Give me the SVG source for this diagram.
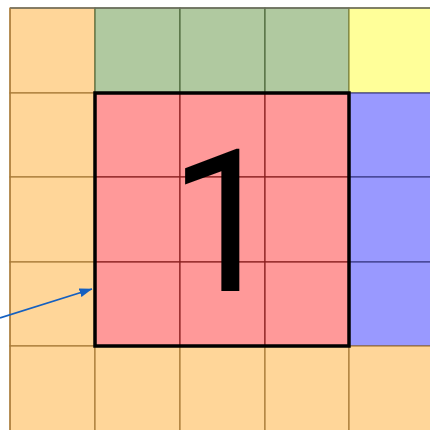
<svg xmlns="http://www.w3.org/2000/svg" width="430" height="430" viewBox="0 0 430 430">
<defs>
<style>
.o{fill:#FFD699;stroke:#A87A38;stroke-width:1.2}
.g{fill:#B0C9A0;stroke:#4F6A3C;stroke-width:1.2}
.y{fill:#FFFF99;stroke:#8A8A3C;stroke-width:1.2}
.p{fill:#FF9999;stroke:#8A2020;stroke-width:1.2}
.b{fill:#9999FF;stroke:#3C3C8A;stroke-width:1.2}
</style>
<marker id="ah" viewBox="0 0 13 9" refX="12.5" refY="4.5" markerWidth="13" markerHeight="9" markerUnits="userSpaceOnUse" orient="auto">
<path d="M0,0 L13,4.5 L0,9 Z" fill="#1560C0"/>
</marker>
</defs>
<g id="cells">
<rect class="o" x="10" y="8" width="85" height="85"/>
<rect class="g" x="95" y="8" width="85" height="85"/>
<rect class="g" x="180" y="8" width="85" height="85"/>
<rect class="g" x="265" y="8" width="84" height="85"/>
<rect class="y" x="349" y="8" width="90" height="85"/>
<rect class="o" x="10" y="93" width="85" height="84"/>
<rect class="o" x="10" y="177" width="85" height="85"/>
<rect class="o" x="10" y="262" width="85" height="84"/>
<rect class="p" x="95" y="93" width="85" height="84"/>
<rect class="p" x="180" y="93" width="85" height="84"/>
<rect class="p" x="265" y="93" width="84" height="84"/>
<rect class="p" x="95" y="177" width="85" height="85"/>
<rect class="p" x="180" y="177" width="85" height="85"/>
<rect class="p" x="265" y="177" width="84" height="85"/>
<rect class="p" x="95" y="262" width="85" height="84"/>
<rect class="p" x="180" y="262" width="85" height="84"/>
<rect class="p" x="265" y="262" width="84" height="84"/>
<rect class="b" x="349" y="93" width="90" height="84"/>
<rect class="b" x="349" y="177" width="90" height="85"/>
<rect class="b" x="349" y="262" width="90" height="84"/>
<rect class="o" x="10" y="346" width="85" height="90"/>
<rect class="o" x="95" y="346" width="85" height="90"/>
<rect class="o" x="180" y="346" width="85" height="90"/>
<rect class="o" x="265" y="346" width="84" height="90"/>
<rect class="o" x="349" y="346" width="90" height="90"/>
<line x1="10" y1="8" x2="430" y2="8" stroke="#6E6E60" stroke-width="1.5"/>
<line x1="10" y1="8" x2="10" y2="430" stroke="#A87A38" stroke-width="1.2"/>
</g>
<g id="block">
<rect x="95" y="93" width="254" height="253" fill="none" stroke="#000" stroke-width="3.5"/>
<text x="168.6" y="290.5" font-family="Roboto, sans-serif" font-size="199" fill="#000">1</text>
</g>
<g id="connectors">
<line x1="0" y1="318" x2="92" y2="289" stroke="#1560C0" stroke-width="1.8" marker-end="url(#ah)"/>
</g>
</svg>
